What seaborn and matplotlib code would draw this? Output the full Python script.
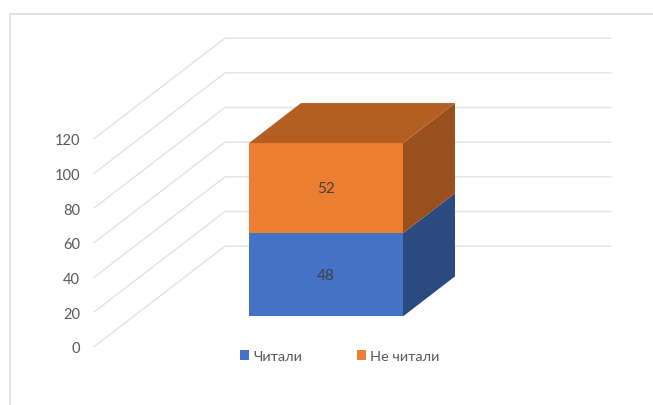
import pandas as pd
import matplotlib
matplotlib.use("Agg")
import matplotlib.pyplot as plt
import seaborn as sns
from matplotlib.lines import Line2D
from matplotlib.patches import Patch

# ---- data ----
series_names = ["Читали", "Не читали"]
series_values = [48, 52]
y_ticks = [0, 20, 40, 60, 80, 100, 120]
front_colors = ["#4472C4", "#ED7D31"]
side_colors = ["#2A4A80", "#99501C"]
top_color = "#B45E22"

# ---- layout, in pixels of the 653x406 picture ----
W, H = 653, 406
DPI = 100
PX_PER_UNIT = 208 / 120    # height of one value unit
BASE_PX = 347.7            # where value 0 sits on the front edge of the floor
CENTER_PX = 326            # middle of the column
GRID_FRONT_X = 94 - CENTER_PX
GRID_BACK_X = 225 - CENTER_PX
GRID_END_X = 611 - CENTER_PX
WALL_DY = 100.5 / PX_PER_UNIT
BAR_WIDTH = 154
BAR_LIFT = 30.3 / PX_PER_UNIT   # column stands part way back on the floor
DEPTH_X = 52
DEPTH_Y = 40 / PX_PER_UNIT

sns.set_theme(style="white")
plt.rcParams["font.family"] = ["Lato", "Noto Sans", "DejaVu Sans"]

fig = plt.figure(figsize=(W / DPI, H / DPI), dpi=DPI)
ax = fig.add_axes([0, 0, 1, 1])
ax.patch.set_alpha(0)

# gridlines on the floor side and back wall
for v in y_ticks:
    ax.plot([GRID_FRONT_X, GRID_BACK_X, GRID_END_X],
            [v, v + WALL_DY, v + WALL_DY],
            color="#E2E2E2", lw=1.0, zorder=1, solid_joinstyle="miter")

# front faces, stacked
df = pd.DataFrame({"cat": ["a"], "v0": [series_values[0]], "v1": [series_values[1]]})
bottom = BAR_LIFT
for i, name in enumerate(series_names):
    sns.barplot(data=df, x="cat", y=f"v{i}", color=front_colors[i], saturation=1,
                width=BAR_WIDTH, bottom=bottom, errorbar=None, ax=ax, zorder=3,
                linewidth=0)
    bar = ax.containers[-1]
    ax.bar_label(bar, labels=[str(series_values[i])], label_type="center",
                 color="#404040", fontsize=11, zorder=5)

    # side face from the same value
    right = BAR_WIDTH / 2
    ax.fill([right, right + DEPTH_X, right + DEPTH_X, right],
            [bottom, bottom + DEPTH_Y, bottom + DEPTH_Y + series_values[i], bottom + series_values[i]],
            color=side_colors[i], lw=0, zorder=3)
    bottom += series_values[i]

# top face
left = -BAR_WIDTH / 2
ax.fill([left, left + DEPTH_X, right + DEPTH_X, right],
        [bottom, bottom + DEPTH_Y, bottom + DEPTH_Y, bottom],
        color=top_color, lw=0, zorder=3)

ax.set_xlim(-CENTER_PX, W - CENTER_PX)
ax.set_ylim((BASE_PX - H) / PX_PER_UNIT, BASE_PX / PX_PER_UNIT)
ax.set_xlabel("")
ax.set_ylabel("")
ax.set_xticks([])
ax.set_yticks(y_ticks)
ax.tick_params(axis="y", length=0, pad=-80 * 72 / DPI, labelsize=10.5, labelcolor="#595959")
sns.despine(ax=ax, left=True, bottom=True)

handles = [Patch(facecolor=c, edgecolor="none") for c in front_colors]
ax.legend(handles, series_names, ncols=2, frameon=False, fontsize=10.4,
          labelcolor="#595959", handlelength=0.66, handleheight=0.66,
          handletextpad=0.25, columnspacing=3.8, borderpad=0, borderaxespad=0,
          loc="center", bbox_to_anchor=(339.5 / W, 1 - 357 / H))

# outer frame of the chart, cut off by the picture at right and bottom
fig.add_artist(Line2D([10 / W, 10 / W, 1], [0, 1 - 14.5 / H, 1 - 14.5 / H],
                      color="#D9D9D9", lw=1.1, transform=fig.transFigure))

fig.savefig("out.png", dpi=DPI)
